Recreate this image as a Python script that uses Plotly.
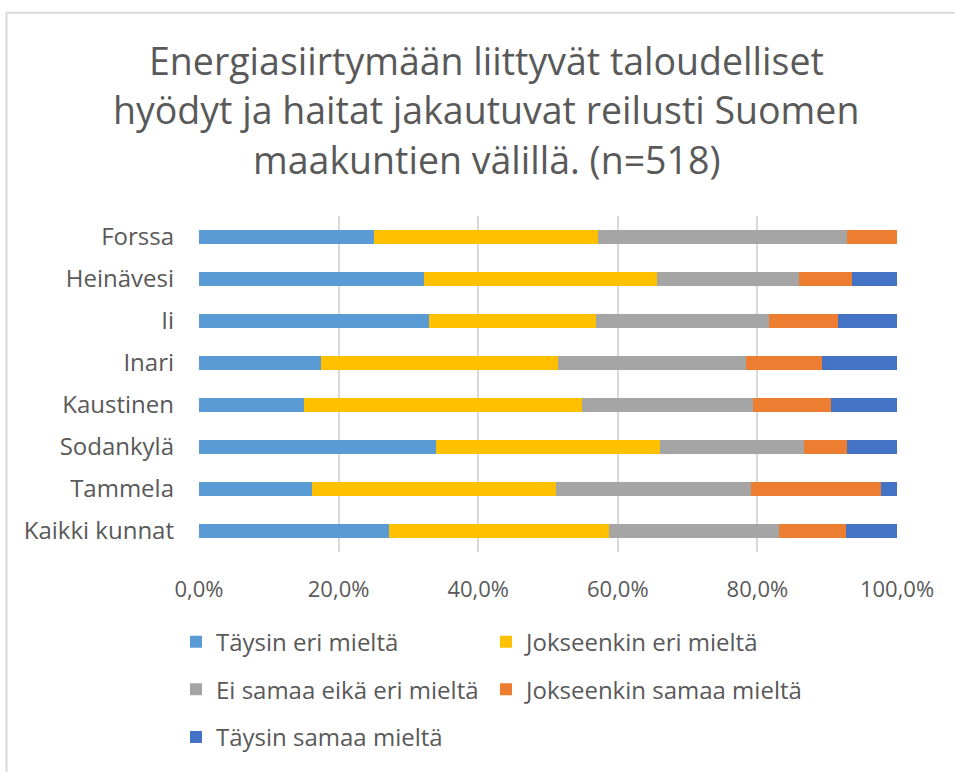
import plotly.graph_objects as go

# Kunnat (ylhäältä alas)
kunnat = ["Forssa", "Heinävesi", "Ii", "Inari", "Kaustinen",
          "Sodankylä", "Tammela", "Kaikki kunnat"]

# Osuudet (%) vastausvaihtoehdoittain
taysin_eri = [25.0, 32.2, 33.0, 17.5, 15.1, 34.0, 16.2, 27.2]
jokseenkin_eri = [32.2, 33.4, 23.9, 33.9, 39.7, 32.0, 35.0, 31.5]
ei_samaa_eika_eri = [35.7, 20.4, 24.7, 27.0, 24.5, 20.7, 27.9, 24.4]
jokseenkin_samaa = [7.1, 7.6, 10.0, 10.9, 11.3, 6.1, 18.6, 9.6]
taysin_samaa = [0.0, 6.4, 8.4, 10.7, 9.4, 7.2, 2.3, 7.3]

sarjat = ["Täysin eri mieltä", "Jokseenkin eri mieltä", "Ei samaa eikä eri mieltä",
          "Jokseenkin samaa mieltä", "Täysin samaa mieltä"]
arvot = [taysin_eri, jokseenkin_eri, ei_samaa_eika_eri, jokseenkin_samaa, taysin_samaa]
varit = ["#5B9BD5", "#FFC000", "#A5A5A5", "#ED7D31", "#4472C4"]

tick_vals = [0, 20, 40, 60, 80, 100]
tick_text = ["0,0%", "20,0%", "40,0%", "60,0%", "80,0%", "100,0%"]

otsikko = ["Energiasiirtymään liittyvät taloudelliset",
           "hyödyt ja haitat jakautuvat reilusti Suomen",
           "maakuntien välillä. (n=518)"]

W, H = 955, 772
L, R, T, B = 199, 897, 216, 555  # plot area in pixels


def px_x(p):
    return (p - L) / (R - L)


def px_y(p):
    return (B - p) / (B - T)


harmaa = "#595959"
fontti = "Open Sans"

fig = go.Figure()
legend_names = ["legend", "legend2", "legend3", "legend4", "legend5"]
for nimi, v, c, lg in zip(sarjat, arvot, varit, legend_names):
    fig.add_trace(go.Bar(y=kunnat, x=v, name=nimi, orientation="h",
                         marker=dict(color=c, line=dict(width=0)),
                         legend=lg))

# legend positions (one entry each, laid out as in the reference)
leg_pos = [(176, 646), (486, 646), (176, 694), (486, 694), (176, 742)]
legends = {}
for lg, (lx, ly) in zip(legend_names, leg_pos):
    legends[lg] = dict(x=px_x(lx), y=px_y(ly), xanchor="left", yanchor="middle",
                       orientation="h", bgcolor="rgba(0,0,0,0)",
                       font=dict(family=fontti, size=24, color=harmaa))

annotations = []
for i, rivi in enumerate(otsikko):
    annotations.append(dict(text=rivi, x=px_x(486), y=px_y(59 + 50 * i),
                            xref="paper", yref="paper", showarrow=False,
                            xanchor="center", yanchor="middle",
                            font=dict(family=fontti, size=37.5, color=harmaa)))

fig.update_layout(
    width=W, height=H,
    margin=dict(l=L, r=W - R, t=T, b=H - B),
    barmode="stack", bargap=0.69,
    paper_bgcolor="white", plot_bgcolor="white",
    font=dict(family=fontti, size=22, color=harmaa),
    showlegend=True,
    annotations=annotations,
    shapes=[dict(type="rect", xref="paper", yref="paper",
                 x0=px_x(6.5), x1=px_x(980), y0=px_y(800), y1=px_y(11),
                 line=dict(color="#D9D9D9", width=2), fillcolor="rgba(0,0,0,0)")],
    **legends,
)
fig.update_xaxes(range=[0, 100], tickvals=tick_vals, ticktext=tick_text,
                 showgrid=True, gridcolor="#D9D9D9", gridwidth=1.5,
                 zeroline=False, showline=False, ticks="",
                 ticklabelstandoff=22,
                 tickfont=dict(family=fontti, size=22, color=harmaa))
fig.update_yaxes(autorange="reversed", showgrid=False, zeroline=False,
                 showline=False, ticks="", ticklabelstandoff=24,
                 tickfont=dict(family=fontti, size=24, color=harmaa))

fig.write_html("out.html", config={"displayModeBar": False},
               post_script="document.body.style.margin='0';")
